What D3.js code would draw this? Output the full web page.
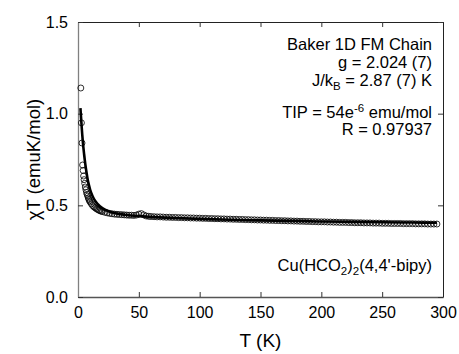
<!DOCTYPE html>
<html>
<head>
<meta charset="utf-8">
<script src="https://cdn.jsdelivr.net/npm/d3@7"></script>
<style>
  body { margin: 0; background: #fff; }
  svg { display: block; font-family: "Liberation Sans", Arial, sans-serif; }
</style>
</head>
<body>
<div id="chart"></div>
<script>
// measured points (open circles)
const tempData = [2.3, 2.8, 3.3, 3.8, 4.2, 4.6, 5.0, 5.5, 6.0, 6.5, 7, 7.5, 8, 8.5, 9, 9.5, 10, 11, 12, 13,
  14, 15, 16, 17, 18, 19, 20, 22, 24, 26, 28, 30, 32, 34, 36, 38, 40, 42, 44, 46,
  48, 50, 52, 54, 56, 58, 60, 62.5, 65, 67.5, 70, 72.5, 75, 77.5, 80, 82.5, 85, 87.5, 90, 92.5,
  95, 97.5, 100, 102.5, 105, 107.5, 110, 112.5, 115, 117.5, 120, 122.5, 125, 127.5, 130, 132.5, 135, 137.5, 140, 142.5,
  145, 147.5, 150, 152.5, 155, 157.5, 160, 162.5, 165, 167.5, 170, 172.5, 175, 177.5, 180, 182.5, 185, 187.5, 190, 192.5,
  195, 197.5, 200, 202.5, 205, 207.5, 210, 212.5, 215, 217.5, 220, 222.5, 225, 227.5, 230, 232.5, 235, 237.5, 240, 242.5,
  245, 247.5, 250, 252.5, 255, 257.5, 260, 262.5, 265, 267.5, 270, 272.5, 275, 277.5, 280, 282.5, 285, 287.5, 290, 292.5, 295]
const chiTData = [1.14, 0.95, 0.84, 0.72, 0.69, 0.66, 0.64, 0.62, 0.60, 0.585, 0.57, 0.56, 0.55, 0.54, 0.532, 0.525, 0.518, 0.508, 0.499, 0.492,
  0.487, 0.482, 0.478, 0.474, 0.471, 0.468, 0.466, 0.462, 0.459, 0.456, 0.454, 0.452, 0.451, 0.450, 0.449, 0.448, 0.447, 0.446, 0.446, 0.445,
  0.447, 0.452, 0.455, 0.448, 0.442, 0.440, 0.439, 0.438, 0.437, 0.437, 0.436, 0.435, 0.435, 0.434, 0.434, 0.433, 0.433, 0.432, 0.432, 0.431,
  0.431, 0.430, 0.430, 0.429, 0.429, 0.428, 0.428, 0.427, 0.427, 0.426, 0.426, 0.425, 0.425, 0.424, 0.424, 0.423, 0.423, 0.422, 0.422, 0.421,
  0.421, 0.420, 0.420, 0.419, 0.419, 0.418, 0.418, 0.417, 0.417, 0.416, 0.416, 0.415, 0.415, 0.414, 0.414, 0.413, 0.413, 0.412, 0.412, 0.411,
  0.411, 0.410, 0.410, 0.410, 0.409, 0.409, 0.408, 0.408, 0.407, 0.407, 0.407, 0.406, 0.406, 0.405, 0.405, 0.405, 0.404, 0.404, 0.404, 0.403,
  0.403, 0.403, 0.402, 0.402, 0.402, 0.401, 0.401, 0.401, 0.401, 0.400, 0.400, 0.400, 0.400, 0.399, 0.399, 0.399, 0.399, 0.398, 0.398, 0.398, 0.398]

// Baker 1D FM chain fit (solid line)
const tempFit = [2.0, 2.5, 3.0, 3.5, 4.0, 5.0, 6.0, 7.0, 8.0, 9.0, 10, 12, 14, 16, 18, 20, 25, 30, 35, 40,
  50, 60, 80, 100, 125, 150, 175, 200, 225, 250, 275, 295]
const chiTFit = [1.03, 0.98, 0.93, 0.885, 0.845, 0.78, 0.725, 0.68, 0.64, 0.61, 0.585, 0.55, 0.525, 0.508, 0.495, 0.485, 0.468, 0.458, 0.452, 0.447,
  0.441, 0.437, 0.431, 0.426, 0.421, 0.418, 0.415, 0.412, 0.410, 0.408, 0.406, 0.405]

const xTicks = [0, 50, 100, 150, 200, 250, 300]
const yTicks = [0.0, 0.5, 1.0, 1.5]

const width = 459
const height = 354
const marginLeft = 78
const marginRight = 16
const marginTop = 22
const marginBottom = 57
const tickLen = 5

const scaleX = d3.scaleLinear().domain([0, 300]).range([marginLeft, width - marginRight])
const scaleY = d3.scaleLinear().domain([0, 1.5]).range([height - marginBottom, marginTop])

const $svg = d3.select('#chart').append('svg')
  .attr('width', width)
  .attr('height', height)

// axes: ticks point inward, labels only on bottom / left
const $bottom = $svg.append('g')
  .attr('transform', `translate(0,${scaleY(0)})`)
  .call(d3.axisBottom(scaleX).tickValues(xTicks).tickSizeInner(-tickLen).tickSizeOuter(0).tickPadding(10).tickFormat(d3.format('d')))
const $top = $svg.append('g')
  .attr('transform', `translate(0,${scaleY(1.5)})`)
  .call(d3.axisTop(scaleX).tickValues(xTicks).tickSizeInner(-tickLen).tickSizeOuter(0).tickFormat(''))
const $left = $svg.append('g')
  .attr('transform', `translate(${scaleX(0)},0)`)
  .call(d3.axisLeft(scaleY).tickValues(yTicks).tickSizeInner(-tickLen).tickSizeOuter(0).tickPadding(10).tickFormat(d3.format('.1f')))
const $right = $svg.append('g')
  .attr('transform', `translate(${scaleX(300)},0)`)
  .call(d3.axisRight(scaleY).tickValues(yTicks).tickSizeInner(-tickLen).tickSizeOuter(0).tickFormat(''))

$svg.selectAll('.tick text')
  .attr('font-size', 16)
  .attr('font-family', '"Liberation Sans", Arial, sans-serif')
  .attr('fill', '#000')

$left.select('.domain').attr('stroke', '#808080').attr('stroke-width', 1.3)
$bottom.select('.domain').attr('stroke', '#555').attr('stroke-width', 1.3)
$top.select('.domain').attr('stroke', '#222')
$right.select('.domain').attr('stroke', '#222')
$svg.selectAll('.tick line').attr('stroke', '#333')

// data circles
$svg.append('g')
  .selectAll('circle')
  .data(tempData.map((t, i) => ({ t, v: chiTData[i] })))
  .enter()
  .append('circle')
  .attr('cx', d => scaleX(d.t))
  .attr('cy', d => scaleY(d.v))
  .attr('r', 3)
  .attr('fill', 'none')
  .attr('stroke', '#000')
  .attr('stroke-width', 0.8)

// fit line
const line = d3.line()
  .x(d => scaleX(d.t))
  .y(d => scaleY(d.v))
  .curve(d3.curveMonotoneX)

$svg.append('path')
  .datum(tempFit.map((t, i) => ({ t, v: chiTFit[i] })))
  .attr('d', line)
  .attr('fill', 'none')
  .attr('stroke', '#000')
  .attr('stroke-width', 2.6)

// axis titles
$svg.append('text')
  .attr('x', (scaleX(0) + scaleX(300)) / 2)
  .attr('y', 347)
  .attr('text-anchor', 'middle')
  .attr('font-size', 19)
  .text('T (K)')

$svg.append('text')
  .attr('transform', `translate(40,${(scaleY(0) + scaleY(1.5)) / 2}) rotate(-90)`)
  .attr('text-anchor', 'middle')
  .attr('font-size', 18.5)
  .text('χT (emuK/mol)')

// annotations
const noteX = 432
const notes = $svg.append('g')
  .attr('font-size', 16.5)
  .attr('text-anchor', 'end')

notes.append('text').attr('x', noteX).attr('y', 50).text('Baker 1D FM Chain')
notes.append('text').attr('x', noteX).attr('y', 68).text('g = 2.024 (7)')
const jLine = notes.append('text').attr('x', noteX).attr('y', 86)
jLine.append('tspan').text('J/k')
jLine.append('tspan').attr('font-size', 11.5).attr('dy', 4).text('B')
jLine.append('tspan').attr('dy', -4).text(' = 2.87 (7) K')
const tipLine = notes.append('text').attr('x', noteX).attr('y', 118)
tipLine.append('tspan').text('TIP = 54e')
tipLine.append('tspan').attr('font-size', 11.5).attr('dy', -6).text('-6')
tipLine.append('tspan').attr('dy', 6).text(' emu/mol')
notes.append('text').attr('x', noteX).attr('y', 135).text('R = 0.97937')

const formula = notes.append('text').attr('x', noteX).attr('y', 271)
formula.append('tspan').text('Cu(HCO')
formula.append('tspan').attr('font-size', 11.5).attr('dy', 4).text('2')
formula.append('tspan').attr('dy', -4).text(')')
formula.append('tspan').attr('font-size', 11.5).attr('dy', 4).text('2')
formula.append('tspan').attr('dy', -4).text('(4,4\'-bipy)')
</script>
</body>
</html>
